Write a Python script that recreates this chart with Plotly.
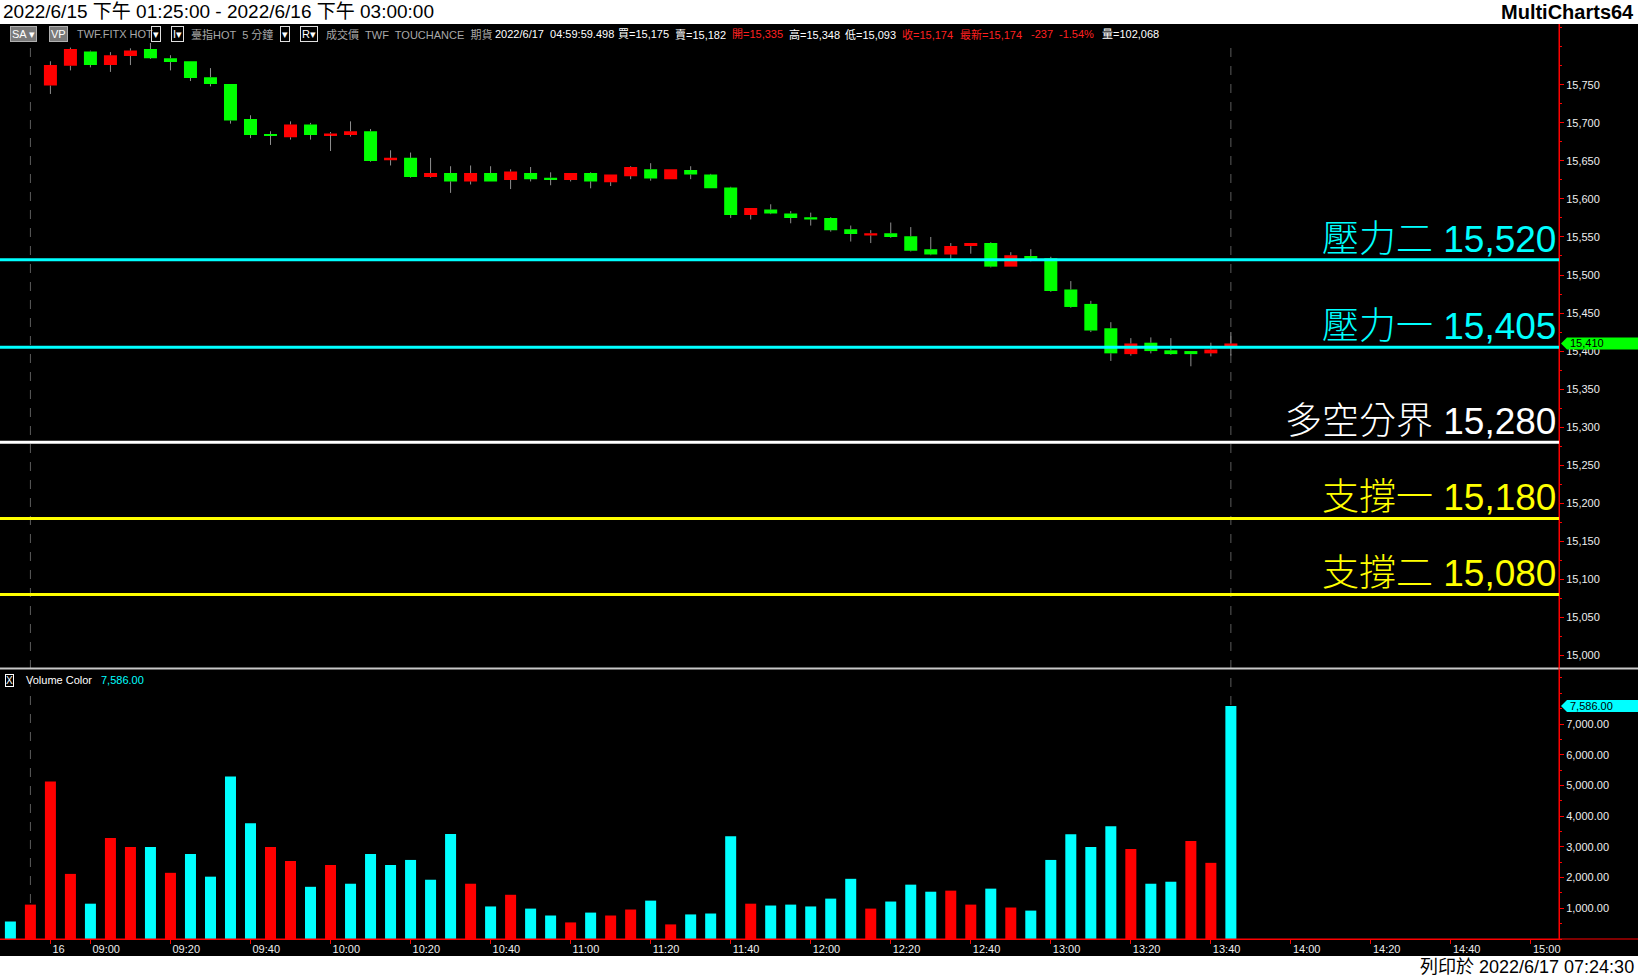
import plotly.graph_objects as go
import pandas as pd

# ---------------- data ----------------
prev_session_times = ["13:40", "13:45"]          # last bars of 2022/6/15
session_date = "2022-06-16"
session_first_bar = "08:50"
axis_last_slot = "15:00"
session_end_time = "13:45"
new_day_label = "16"

opens = [None, None,
         15749, 15775, 15794, 15776, 15788, 15797, 15785, 15781, 15760, 15751,
         15705, 15685, 15681, 15698, 15684, 15684, 15689, 15651, 15654, 15629,
         15634, 15623, 15634, 15625, 15634, 15628, 15625, 15634, 15622, 15630,
         15639, 15626, 15638, 15632, 15615, 15579, 15586, 15581, 15576, 15575,
         15560, 15552, 15555, 15551, 15534, 15527, 15538, 15542, 15511, 15525,
         15522, 15481, 15462, 15430, 15396, 15411, 15401, 15400, 15397, 15406]
highs = [None, None,
         15781, 15799, 15795, 15793, 15798, 15805, 15789, 15781, 15772, 15751,
         15710, 15689, 15702, 15700, 15688, 15702, 15692, 15664, 15661, 15654,
         15643, 15644, 15643, 15639, 15642, 15635, 15634, 15635, 15632, 15643,
         15647, 15639, 15643, 15633, 15616, 15588, 15593, 15584, 15582, 15576,
         15565, 15559, 15569, 15563, 15550, 15542, 15542, 15543, 15530, 15534,
         15524, 15492, 15466, 15438, 15417, 15418, 15417, 15400, 15411, 15425]
lows = [None, None,
        15738, 15769, 15773, 15767, 15776, 15784, 15769, 15755, 15748, 15699,
        15680, 15671, 15678, 15678, 15663, 15682, 15649, 15644, 15628, 15628,
        15608, 15619, 15623, 15613, 15623, 15618, 15623, 15614, 15617, 15626,
        15624, 15626, 15626, 15614, 15575, 15573, 15580, 15568, 15565, 15557,
        15544, 15542, 15549, 15531, 15526, 15521, 15528, 15510, 15511, 15518,
        15478, 15457, 15425, 15387, 15394, 15397, 15395, 15380, 15393, 15394]
closes = [None, None,
          15776, 15797, 15776, 15789, 15795, 15785, 15780, 15759, 15751, 15703,
          15684, 15683, 15698, 15684, 15686, 15689, 15650, 15654, 15629, 15634,
          15623, 15634, 15623, 15636, 15626, 15626, 15634, 15623, 15632, 15642,
          15627, 15639, 15632, 15614, 15579, 15588, 15581, 15575, 15573, 15559,
          15554, 15555, 15550, 15532, 15527, 15538, 15542, 15511, 15526, 15520,
          15479, 15458, 15427, 15397, 15410, 15400, 15396, 15396, 15402, 15410]
volumes = [570, 1120, 5130, 2120, 1150, 3290, 3000, 3000, 2155, 2770,
           2030, 5290, 3770, 3000, 2540, 1700, 2410, 1800, 2770, 2410,
           2575, 1930, 3420, 1800, 1060, 1440, 990, 765, 540, 860,
           765, 960, 1250, 475, 800, 830, 3350, 1150, 1090, 1120,
           1060, 1315, 1960, 990, 1220, 1770, 1540, 1575, 1120, 1640,
           1025, 925, 2575, 3415, 3000, 3675, 2930, 1800, 1865, 3190,
           2480, 7586]
# 1 = red volume bar, 0 = cyan volume bar
vol_dir = [0, 1, 1, 1, 0, 1, 1, 0, 1, 0,
           0, 0, 0, 1, 1, 0, 1, 0, 0, 0,
           0, 0, 0, 1, 0, 1, 0, 0, 1, 0,
           1, 1, 0, 1, 0, 0, 0, 1, 0, 0,
           0, 0, 0, 1, 0, 0, 0, 1, 1, 0,
           1, 0, 0, 0, 0, 0, 1, 0, 0, 1,
           1, 0]

tick_labels = ["16", "09:00", "09:20", "09:40", "10:00", "10:20", "10:40",
               "11:00", "11:20", "11:40", "12:00", "12:20", "12:40", "13:00",
               "13:20", "13:40", "14:00", "14:20", "14:40", "15:00"]

level_names = ["壓力二", "壓力一", "多空分界", "支撐一", "支撐二"]
level_values = [15520, 15405, 15280, 15180, 15080]
level_colors = ["#00FFFF", "#00FFFF", "#FFFFFF", "#FFFF00", "#FFFF00"]

price_ticks = list(range(15000, 15751, 50))
vol_ticks = [1000, 2000, 3000, 4000, 5000, 6000, 7000]

title_text = "2022/6/15 下午 01:25:00 - 2022/6/16 下午 03:00:00"
brand_text = "MultiCharts64"
print_text = "列印於 2022/6/17 07:24:30"

# toolbar: (text, left px, colour, boxed)
toolbar_items = [
    ("SA ▾", 10, "#ffffff", "fill"),
    ("VP", 49, "#ffffff", "fill"),
    ("TWF.FITX HOT", 75, "#a8a8a8", None),
    ("▾", 151, "#ffffff", "border"),
    ("I▾", 171, "#ffffff", "border"),
    ("臺指HOT  5 分鐘", 189, "#a8a8a8", None),
    ("▾", 280, "#ffffff", "border"),
    ("R▾", 300, "#ffffff", "border"),
    ("成交價  TWF  TOUCHANCE  期貨", 324, "#a8a8a8", None),
    ("2022/6/17  04:59:59.498", 493, "#ffffff", None),
    ("買=15,175", 616, "#ffffff", None),
    ("賣=15,182", 673, "#ffffff", None),
    ("開=15,335", 730, "#ff2020", None),
    ("高=15,348", 787, "#ffffff", None),
    ("低=15,093", 843, "#ffffff", None),
    ("收=15,174", 900, "#ff2020", None),
    ("最新=15,174", 958, "#ff2020", None),
    ("-237", 1029, "#ff2020", None),
    ("-1.54%", 1057, "#ff2020", None),
    ("量=102,068", 1100, "#ffffff", None),
]

# ---------------- geometry helpers ----------------
W, H = 1638, 979
PL, PR, PT, PB = 0, 1559, 24, 939


def xp(px):
    return (px - PL) / (PR - PL)


def yp(py):
    return (PB - py) / (PB - PT)


FONT = "Liberation Sans, Noto Sans CJK TC, sans-serif"
RED, GREEN, CYAN = "#FF0000", "#00FF00", "#00FFFF"

# ---------------- derived ----------------
day_slots = pd.date_range(f"{session_date} {session_first_bar}",
                          f"{session_date} {axis_last_slot}", freq="5min").strftime("%H:%M").tolist()
slots = prev_session_times + day_slots
n_bars = len(volumes)
idx = list(range(n_bars))

tick_pos = []
for lab in tick_labels:
    if lab == new_day_label:
        tick_pos.append(len(prev_session_times))
    else:
        tick_pos.append(len(prev_session_times) + day_slots.index(lab))

session_ends = [i for i in range(n_bars) if slots[i] == session_end_time]

cx, cbase, cheight, ccol = [], [], [], []
wx, wy = [], []
for i in idx:
    o, h, l, c = opens[i], highs[i], lows[i], closes[i]
    if o is None:
        continue
    cx.append(i)
    cbase.append(min(o, c))
    cheight.append(abs(c - o))
    ccol.append(RED if c >= o else GREEN)
    wx += [i, i, None, i, i, None]
    wy += [h, max(o, c), None, min(o, c), l, None]

fig = go.Figure()
fig.add_trace(go.Scatter(x=wx, y=wy, mode="lines", line=dict(color="#8f8f8f", width=1),
                         xaxis="x", yaxis="y", hoverinfo="skip"))
fig.add_trace(go.Bar(x=cx, y=cheight, base=cbase, width=0.65,
                     marker=dict(color=ccol, line=dict(width=0)), xaxis="x", yaxis="y"))
fig.add_trace(go.Bar(x=idx, y=volumes, width=0.55,
                     marker=dict(color=[RED if d else CYAN for d in vol_dir], line=dict(width=0)),
                     xaxis="x2", yaxis="y2"))

xr = [-0.52, 77.4]
tickfont = dict(family=FONT, size=11, color="#eeeeee")

fig.update_layout(
    width=W, height=H,
    margin=dict(l=PL, r=W - PR, t=PT, b=H - PB),
    paper_bgcolor="black", plot_bgcolor="black",
    showlegend=False, barmode="overlay",
    xaxis=dict(domain=[0, 1], anchor="y", range=xr, showticklabels=False, showgrid=False,
               zeroline=False, ticks=""),
    yaxis=dict(domain=[yp(667.5), 1], anchor="x", side="right", range=[14984, 15830],
               tickmode="array", tickvals=price_ticks, tickformat=",d",
               showgrid=False, zeroline=False, showline=True, linecolor="red", linewidth=1,
               ticks="outside", ticklen=4, tickcolor="red", tickfont=tickfont,
               minor=dict(tickmode="linear", tick0=0, dtick=25, ticks="outside",
                          ticklen=2, tickcolor="red")),
    xaxis2=dict(domain=[0, 1], anchor="y2", range=xr, tickmode="array", tickvals=tick_pos,
                ticktext=tick_labels, ticks="outside", ticklen=4, tickcolor="red",
                showline=True, linecolor="red", linewidth=1, ticklabelposition="outside right",
                ticklabelshift=1, tickfont=tickfont, showgrid=False, zeroline=False),
    yaxis2=dict(domain=[0, yp(670)], anchor="x2", side="right", range=[0, 8760],
                tickmode="array", tickvals=vol_ticks, tickformat=",.2f",
                showgrid=False, zeroline=False, showline=True, linecolor="red", linewidth=1,
                ticks="outside", ticklen=4, tickcolor="red", tickfont=tickfont,
                minor=dict(tickmode="linear", tick0=0, dtick=500, ticks="outside",
                           ticklen=2, tickcolor="red")),
)

shapes = []
# white header / footer bands
shapes.append(dict(type="rect", xref="paper", yref="paper", x0=-0.01, x1=xp(W + 5),
                   y0=yp(PT), y1=yp(-5), fillcolor="white", line=dict(width=0), layer="below"))
shapes.append(dict(type="rect", xref="paper", yref="paper", x0=-0.01, x1=xp(W + 5),
                   y0=yp(H + 5), y1=yp(956), fillcolor="white", line=dict(width=0), layer="below"))
# session separators (start below the toolbar row)
for s in session_ends:
    shapes.append(dict(type="line", xref="x", yref="paper", x0=s, x1=s, y0=0, y1=yp(44),
                       line=dict(color="#5c5c5c", width=1, dash="dash"), layer="below"))
# panel separator
shapes.append(dict(type="line", xref="paper", yref="paper", x0=0, x1=xp(W), y0=yp(668.5),
                   y1=yp(668.5), line=dict(color="#c8c8c8", width=2)))
# full-height price axis line and bottom axis line
shapes.append(dict(type="line", xref="paper", yref="paper", x0=1, x1=1, y0=0, y1=1,
                   line=dict(color="red", width=1)))
shapes.append(dict(type="line", xref="paper", yref="paper", x0=0, x1=xp(W), y0=0, y1=0,
                   line=dict(color="red", width=1)))
# level lines
for v, col in zip(level_values, level_colors):
    shapes.append(dict(type="line", xref="paper", yref="y", x0=0, x1=1, y0=v, y1=v,
                       line=dict(color=col, width=3)))
# last-value markers
marker_path = "M 2,0 L 8,6 L 82,6 L 82,-6 L 8,-6 Z"
shapes.append(dict(type="path", xref="paper", yref="y", xsizemode="pixel", ysizemode="pixel",
                   xanchor=1, yanchor=closes[-1], path=marker_path,
                   fillcolor=GREEN, line=dict(width=0)))
shapes.append(dict(type="path", xref="paper", yref="y2", xsizemode="pixel", ysizemode="pixel",
                   xanchor=1, yanchor=volumes[-1], path=marker_path,
                   fillcolor=CYAN, line=dict(width=0)))
fig.update_layout(shapes=shapes)

ann = []
# level labels
for name, v, col in zip(level_names, level_values, level_colors):
    ann.append(dict(text=f"{name} {v:,}", xref="paper", yref="y", x=1, y=v,
                    xanchor="right", yanchor="bottom", xshift=-1, yshift=-2,
                    showarrow=False, font=dict(family=FONT, size=37, color=col, weight=300)))
# marker texts
ann.append(dict(text=f"{closes[-1]:,}", xref="paper", yref="y", x=1, y=closes[-1],
                xanchor="left", yanchor="middle", xshift=9, showarrow=False,
                font=dict(family=FONT, size=11, color="black")))
ann.append(dict(text=f"{volumes[-1]:,.2f}", xref="paper", yref="y2", x=1, y=volumes[-1],
                xanchor="left", yanchor="middle", xshift=9, showarrow=False,
                font=dict(family=FONT, size=11, color="black")))
# header / footer
ann.append(dict(text=title_text, xref="paper", yref="paper", x=xp(1), y=yp(12),
                xanchor="left", yanchor="middle", showarrow=False,
                font=dict(family=FONT, size=19, color="black")))
ann.append(dict(text=f"<b>{brand_text}</b>", xref="paper", yref="paper", x=xp(1636), y=yp(12),
                xanchor="right", yanchor="middle", showarrow=False,
                font=dict(family=FONT, size=20, color="black")))
ann.append(dict(text=print_text, xref="paper", yref="paper", x=xp(1636), y=yp(967),
                xanchor="right", yanchor="middle", showarrow=False,
                font=dict(family=FONT, size=18, color="black")))
# toolbar
for text, px, col, box in toolbar_items:
    a = dict(text=text, xref="paper", yref="paper", x=xp(px), y=yp(34.5),
             xanchor="left", yanchor="middle", showarrow=False,
             font=dict(family=FONT, size=11, color=col), borderpad=1)
    if box == "fill":
        a.update(bgcolor="#7a7a7a", bordercolor="#b0b0b0", borderwidth=1)
    elif box == "border":
        a.update(bordercolor="#e0e0e0", borderwidth=1)
    ann.append(a)
# volume legend
ann.append(dict(text="X", xref="paper", yref="paper", x=xp(5), y=yp(680), xanchor="left",
                yanchor="middle", showarrow=False, bordercolor="white", borderwidth=1, borderpad=0,
                font=dict(family=FONT, size=10, color="white")))
ann.append(dict(text="Volume Color", xref="paper", yref="paper", x=xp(24), y=yp(680),
                xanchor="left", yanchor="middle", showarrow=False,
                font=dict(family=FONT, size=11, color="white")))
ann.append(dict(text=f"{volumes[-1]:,.2f}", xref="paper", yref="paper", x=xp(99), y=yp(680),
                xanchor="left", yanchor="middle", showarrow=False,
                font=dict(family=FONT, size=11, color=CYAN)))
fig.update_layout(annotations=ann)

fig.write_html("out.html",
               config={"displayModeBar": False},
               post_script="document.body.style.margin='0';"
                           "document.documentElement.style.overflow='hidden';"
                           "document.body.style.overflow='hidden';")
